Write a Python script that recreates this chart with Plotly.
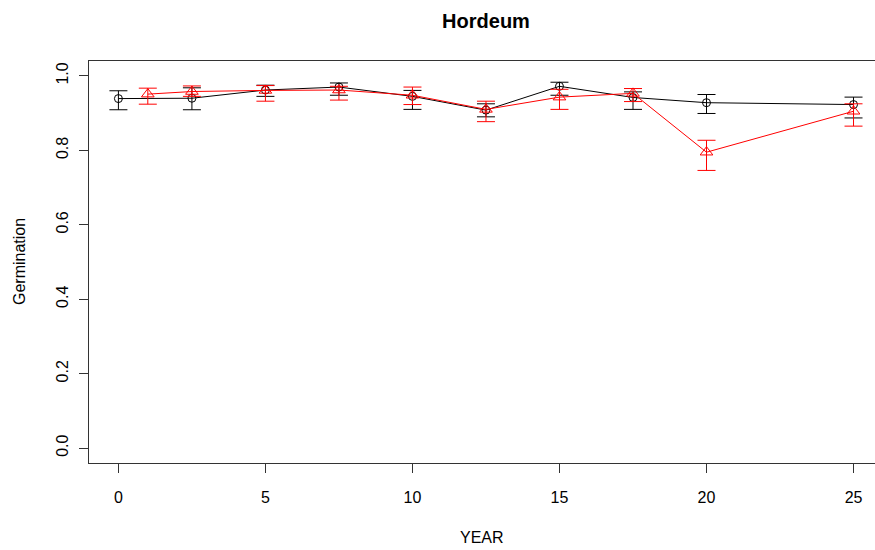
import plotly.graph_objects as go

# Germination of Hordeum seed lots over storage time (two series)
year_a = [0, 2.5, 5, 7.5, 10, 12.5, 15, 17.5, 20, 25]
germ_a = [0.939, 0.940, 0.962, 0.970, 0.945, 0.908, 0.972, 0.942, 0.928, 0.923]
low_a = [0.909, 0.909, 0.945, 0.948, 0.910, 0.890, 0.948, 0.910, 0.899, 0.887]
high_a = [0.960, 0.968, 0.975, 0.981, 0.961, 0.925, 0.983, 0.957, 0.950, 0.943]

year_b = [1, 2.5, 5, 7.5, 10, 12.5, 15, 17.5, 20, 25]
germ_b = [0.951, 0.958, 0.961, 0.962, 0.948, 0.910, 0.943, 0.953, 0.795, 0.905]
low_b = [0.924, 0.945, 0.932, 0.935, 0.923, 0.877, 0.910, 0.931, 0.746, 0.865]
high_b = [0.967, 0.973, 0.974, 0.972, 0.970, 0.932, 0.964, 0.966, 0.827, 0.925]

x_ticks = [0, 5, 10, 15, 20, 25]
y_ticks = [0.0, 0.2, 0.4, 0.6, 0.8, 1.0]
y_tick_text = ["0.0", "0.2", "0.4", "0.6", "0.8", "1.0"]

FONT = "Liberation Sans, Arial, sans-serif"


def series(x, y, lo, hi, color, symbol, size):
    return go.Scatter(
        x=x, y=y, mode="lines+markers",
        line=dict(color=color, width=1),
        marker=dict(symbol=symbol, size=size, color=color,
                    line=dict(color=color, width=1)),
        error_y=dict(type="data", symmetric=False,
                     array=[h - v for h, v in zip(hi, y)],
                     arrayminus=[v - l for v, l in zip(y, lo)],
                     color=color, thickness=1, width=9),
        showlegend=False, hoverinfo="x+y",
    )


fig = go.Figure()
fig.add_trace(series(year_a, germ_a, low_a, high_a, "black", "circle-open", 8))
fig.add_trace(series(year_b, germ_b, low_b, high_b, "red", "triangle-up-open", 11))

fig.update_layout(
    width=875, height=550,
    margin=dict(l=89, r=0, t=61, b=87),
    paper_bgcolor="white", plot_bgcolor="white",
    font=dict(family=FONT, size=16, color="black"),
    title=dict(text="<b>Hordeum</b>", x=486 / 875, xanchor="center",
               xref="container", y=1 - 21 / 550, yanchor="middle",
               font=dict(family=FONT, size=20, color="black")),
)
fig.update_xaxes(
    range=[-1.0, 25.73], showgrid=False, zeroline=False,
    showline=True, linecolor="#333", linewidth=1, mirror=True,
    ticks="outside", ticklen=9, tickcolor="#333",
    tickvals=x_ticks, ticklabelstandoff=11,
)
fig.update_yaxes(
    range=[-0.04, 1.04], showgrid=False, zeroline=False,
    showline=True, linecolor="#333", linewidth=1,
    ticks="outside", ticklen=9, tickcolor="#333",
    tickvals=y_ticks, ticktext=y_tick_text, tickangle=-90,
    ticklabelstandoff=5,
)
fig.add_annotation(text="YEAR", xref="paper", yref="paper", x=0.5, y=0,
                   xanchor="center", yanchor="middle", yshift=-74,
                   showarrow=False, font=dict(family=FONT, size=16))
fig.add_annotation(text="Germination", xref="paper", yref="paper", x=0, y=0.5,
                   xanchor="center", yanchor="middle", xshift=-70, textangle=-90,
                   showarrow=False, font=dict(family=FONT, size=16))

fig.write_html("out.html")
